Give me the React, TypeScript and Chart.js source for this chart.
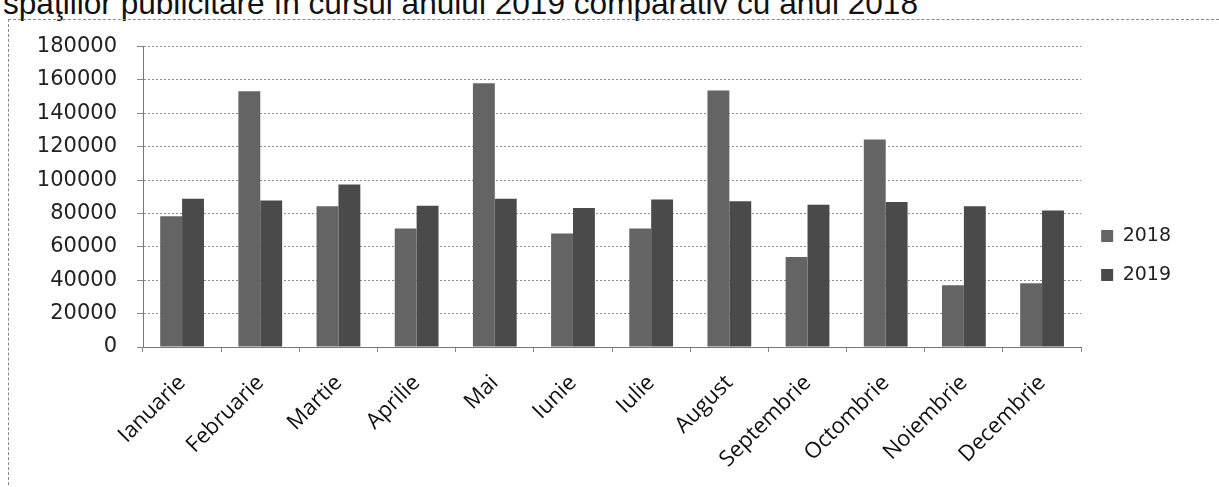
import React, { useEffect, useRef } from "react";
import { Chart, registerables } from "chart.js";

Chart.register(...registerables);

const months = [
  "Ianuarie", "Februarie", "Martie", "Aprilie", "Mai", "Iunie",
  "Iulie", "August", "Septembrie", "Octombrie", "Noiembrie", "Decembrie",
];
const values2018 = [78400, 153300, 84300, 71000, 158000, 68000, 71000, 153700, 54000, 124300, 37000, 38200];
const values2019 = [88900, 87800, 97300, 84600, 88800, 83300, 88400, 87400, 85300, 86900, 84300, 81800];
const seriesLabels = ["2018", "2019"];
const titleText = "spaţiilor publicitare în cursul anului 2019 comparativ cu anul 2018";

const CANVAS_W = 1210;
const CANVAS_H = 473;

export default function App() {
  const ref = useRef<HTMLCanvasElement | null>(null);

  useEffect(() => {
    if (!ref.current) return;
    const chart = new Chart(ref.current, {
      type: "bar",
      data: {
        labels: months,
        datasets: [
          {
            label: seriesLabels[0],
            data: values2018,
            backgroundColor: "#646464",
            borderWidth: 0,
            categoryPercentage: 0.56,
            barPercentage: 1.0,
          },
          {
            label: seriesLabels[1],
            data: values2019,
            backgroundColor: "#4a4a4a",
            borderWidth: 0,
            categoryPercentage: 0.56,
            barPercentage: 1.0,
          },
        ],
      },
      options: {
        responsive: false,
        animation: false,
        devicePixelRatio: 1,
        layout: { padding: { top: 16, right: 38, left: 0, bottom: 6 } },
        plugins: {
          title: { display: false },
          tooltip: { enabled: false },
          legend: {
            position: "right",
            align: "center",
            labels: {
              boxWidth: 12,
              boxHeight: 12,
              padding: 20,
              color: "#222",
              font: { family: "DejaVu Sans", size: 19 },
            },
          },
        },
        scales: {
          x: {
            grid: {
              display: true,
              drawOnChartArea: false,
              drawTicks: true,
              tickLength: 5,
              color: "#888",
              offset: true,
            },
            border: { display: true, color: "#777", dash: [2, 2] },
            ticks: {
              minRotation: 45,
              maxRotation: 45,
              padding: 18,
              color: "#111",
              font: { family: "Open Sans", size: 22 },
            },
            afterFit: (scale: any) => {
              scale.height = 134;
            },
          },
          y: {
            min: 0,
            max: 180000,
            ticks: {
              stepSize: 20000,
              padding: 20,
              color: "#222",
              font: { family: "DejaVu Sans", size: 21 },
              callback: (v: any) => String(v),
            },
            grid: {
              color: "#8a8a8a",
              lineWidth: 1,
              tickLength: 6,
            },
            border: { display: true, color: "#777", dash: [2, 2] },
            afterFit: (scale: any) => {
              scale.width = 134;
            },
          },
        },
      },
    });
    return () => chart.destroy();
  }, []);

  return (
    <div style={{ position: "absolute", left: 0, top: 0, width: 1219, height: 487, overflow: "hidden", background: "#fff" }}>
      <div
        style={{
          position: "absolute",
          left: 3,
          top: -15,
          fontFamily: "Liberation Sans, Arial, sans-serif",
          fontSize: 31.6,
          lineHeight: "36px",
          color: "#111",
          whiteSpace: "nowrap",
        }}
      >
        {titleText}
      </div>
      <div
        style={{
          position: "absolute",
          left: 8,
          top: 19,
          width: 1220,
          height: 480,
          borderLeft: "1px dashed #888",
          borderTop: "1px dashed #888",
        }}
      />
      <canvas
        ref={ref}
        width={CANVAS_W}
        height={CANVAS_H}
        style={{ position: "absolute", left: 9, top: 14, width: CANVAS_W, height: CANVAS_H }}
      />
    </div>
  );
}
